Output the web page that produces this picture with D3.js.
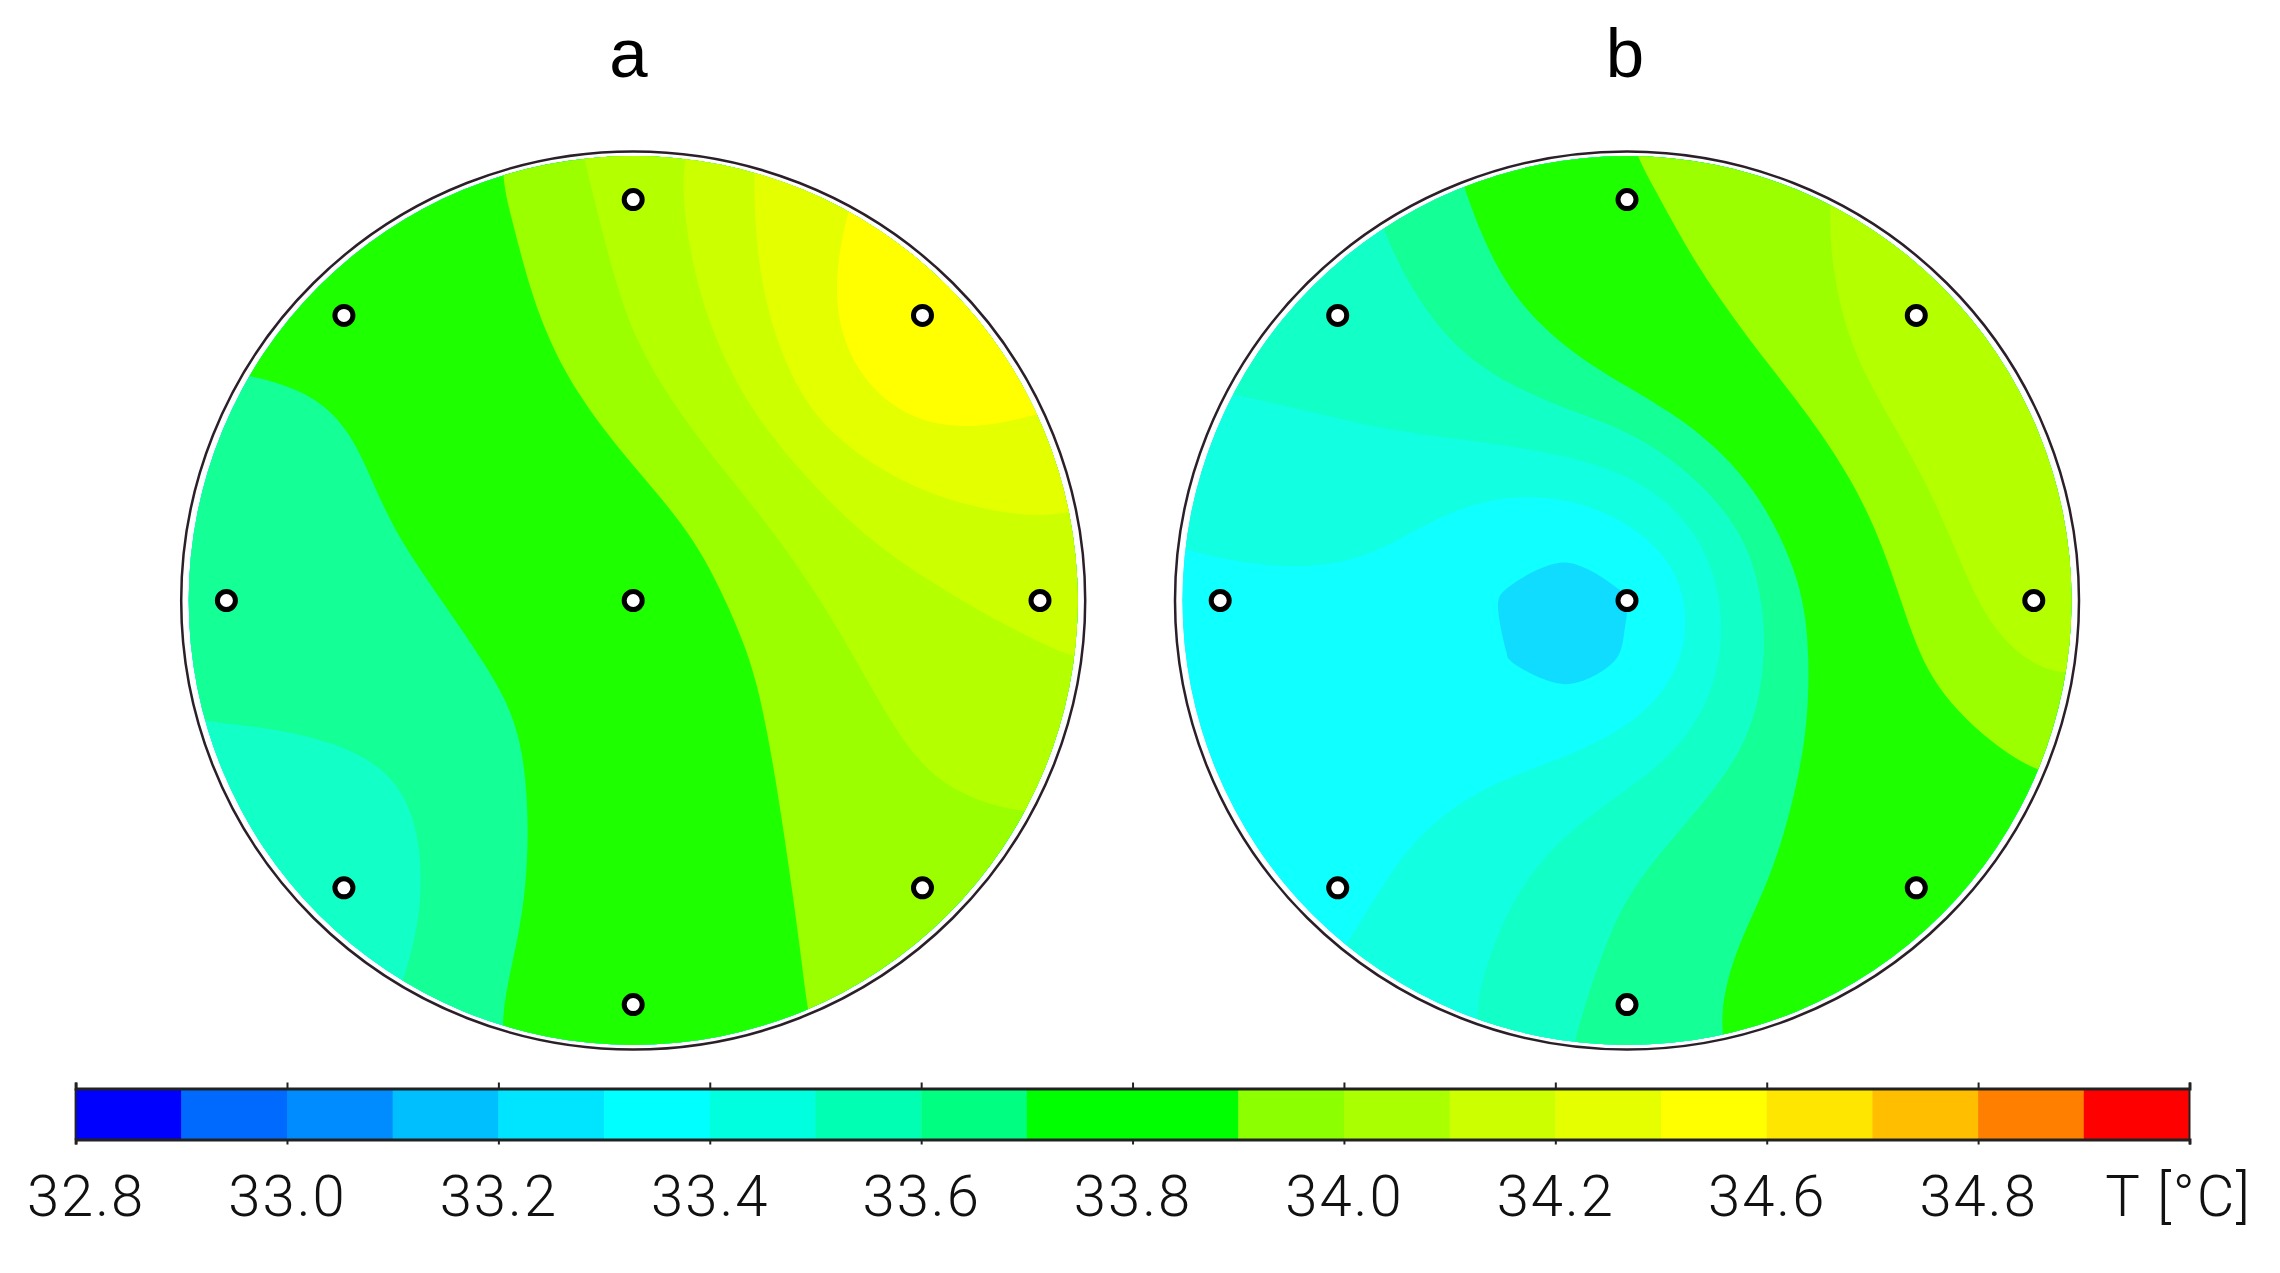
<!DOCTYPE html>
<html lang="en">
<head>
<meta charset="UTF-8">
<title>Temperature maps a and b</title>
<style>
  body { margin: 0; background: #fff; }
  svg { display: block; }
  .title { font-family: "Liberation Sans", sans-serif; font-size: 69px; text-anchor: middle; fill: #000; }
  .lab { font-family: Roboto, "Liberation Sans", sans-serif; font-weight: 300; font-size: 58px; letter-spacing: 2px; fill: #111; }
</style>
</head>
<body>
<svg id="chart" width="2280" height="1273"></svg>
<script src="https://cdn.jsdelivr.net/npm/d3@7"></script>
<script>
// temperatures, 17 x 17 grid, row by row, in degC
var tempsA = [
33.74,33.76,33.78,33.82,33.85,33.88,33.93,34.00,34.06,34.12,34.20,34.25,34.30,34.32,34.33,34.33,34.33,
33.73,33.75,33.77,33.80,33.83,33.87,33.91,33.98,34.05,34.12,34.20,34.26,34.31,34.33,34.34,34.34,34.34,
33.72,33.74,33.76,33.79,33.82,33.85,33.895,33.965,34.035,34.107,34.198,34.28,34.36,34.37,34.37,34.37,34.36,
33.72,33.73,33.75,33.78,33.81,33.85,33.89,33.945,34.02,34.09,34.195,34.285,34.365,34.38,34.38,34.37,34.36,
33.70,33.705,33.705,33.725,33.78,33.82,33.865,33.915,33.986,34.06,34.15,34.26,34.35,34.36,34.35,34.35,34.34,
33.64,33.65,33.665,33.68,33.74,33.79,33.83,33.88,33.94,34.01,34.09,34.196,34.27,34.31,34.305,34.285,34.27,
33.64,33.645,33.655,33.685,33.72,33.76,33.80,33.845,33.887,33.95,34.027,34.105,34.18,34.22,34.25,34.25,34.25,
33.635,33.64,33.65,33.67,33.698,33.737,33.777,33.817,33.857,33.895,33.964,34.034,34.103,34.14,34.165,34.175,34.18,
33.63,33.635,33.64,33.65,33.68,33.708,33.749,33.79,33.832,33.873,33.924,33.994,34.04,34.085,34.115,34.13,34.145,
33.62,33.625,33.63,33.64,33.66,33.685,33.72,33.765,33.81,33.855,33.901,33.963,34.011,34.039,34.066,34.094,34.11,
33.60,33.605,33.605,33.612,33.635,33.675,33.698,33.746,33.795,33.843,33.891,33.942,33.993,34.02,34.04,34.06,34.07,
33.55,33.55,33.555,33.57,33.595,33.647,33.69,33.739,33.787,33.835,33.883,33.926,33.965,34.003,34.015,34.02,34.02,
33.53,33.53,33.54,33.55,33.575,33.625,33.687,33.737,33.784,33.831,33.879,33.92,33.95,33.987,33.988,33.995,33.995,
33.52,33.52,33.53,33.55,33.57,33.625,33.69,33.738,33.783,33.83,33.874,33.915,33.935,33.95,33.96,33.97,33.97,
33.52,33.52,33.53,33.55,33.58,33.645,33.702,33.741,33.784,33.826,33.869,33.906,33.925,33.94,33.95,33.95,33.95,
33.53,33.53,33.54,33.565,33.607,33.67,33.71,33.744,33.784,33.824,33.864,33.905,33.92,33.93,33.93,33.93,33.93,
33.54,33.54,33.55,33.58,33.622,33.685,33.72,33.747,33.785,33.823,33.861,33.899,33.92,33.93,33.93,33.93,33.93
];
var tempsB = [
33.50,33.52,33.54,33.58,33.63,33.70,33.775,33.845,33.906,33.933,33.96,33.987,34.02,34.05,34.07,34.08,34.08,
33.50,33.52,33.54,33.57,33.62,33.685,33.749,33.812,33.876,33.92,33.953,33.985,34.02,34.05,34.07,34.08,34.08,
33.50,33.515,33.53,33.56,33.597,33.662,33.725,33.783,33.842,33.90,33.942,33.984,34.03,34.06,34.08,34.09,34.09,
33.505,33.515,33.53,33.55,33.575,33.63,33.69,33.747,33.805,33.863,33.92,33.973,34.025,34.055,34.07,34.08,34.08,
33.51,33.515,33.525,33.54,33.555,33.58,33.63,33.683,33.744,33.81,33.875,33.94,34.006,34.04,34.06,34.07,34.07,
33.47,33.478,33.484,33.494,33.507,33.53,33.554,33.578,33.605,33.69,33.785,33.883,33.965,34.03,34.05,34.06,34.06,
33.44,33.44,33.45,33.455,33.45,33.41,33.403,33.41,33.47,33.56,33.68,33.803,33.915,33.997,34.03,34.05,34.05,
33.40,33.41,33.42,33.42,33.405,33.38,33.328,33.315,33.331,33.433,33.584,33.736,33.865,33.962,34.03,34.06,34.07,
33.37,33.37,33.38,33.39,33.37,33.345,33.293,33.273,33.297,33.383,33.53,33.695,33.83,33.935,34.01,34.05,34.07,
33.36,33.36,33.36,33.36,33.35,33.343,33.301,33.279,33.304,33.396,33.528,33.682,33.80,33.908,33.967,34.03,34.05,
33.35,33.35,33.35,33.35,33.35,33.35,33.344,33.329,33.36,33.457,33.565,33.69,33.777,33.862,33.925,33.95,33.96,
33.35,33.35,33.355,33.36,33.37,33.38,33.40,33.44,33.48,33.541,33.626,33.706,33.755,33.803,33.852,33.90,33.92,
33.35,33.35,33.36,33.37,33.39,33.425,33.465,33.506,33.558,33.611,33.669,33.715,33.74,33.765,33.79,33.81,33.82,
33.35,33.355,33.365,33.38,33.403,33.449,33.495,33.547,33.60,33.646,33.691,33.71,33.73,33.74,33.75,33.76,33.77,
33.35,33.36,33.375,33.395,33.431,33.47,33.514,33.572,33.622,33.67,33.71,33.72,33.73,33.74,33.75,33.75,33.76,
33.36,33.37,33.385,33.41,33.447,33.483,33.53,33.589,33.632,33.68,33.715,33.72,33.73,33.74,33.75,33.75,33.76,
33.365,33.38,33.395,33.43,33.46,33.493,33.544,33.60,33.639,33.69,33.725,33.73,33.73,33.74,33.75,33.75,33.76
];
var gridSize = 17;

// sensor positions, -1..1 across the disc
var sensorX = [0, -0.64, 0.64, -0.9, 0, 0.9, -0.64, 0.64, 0];
var sensorY = [-0.893, -0.635, -0.635, 0, 0, 0, 0.64, 0.64, 0.9];

// colour key
var bandStart = d3.range(0, 20).map(function(i) { return 32.8 + i * 0.1; });
var barColors = ["#0000ff","#006aff","#008cff","#00bfff","#00e5ff","#00ffff","#00ffdf","#00ffb3","#00ff80","#00ff00",
                 "#00ff00","#8cff00","#aaff00","#ccff00","#e6ff00","#ffff00","#ffe600","#ffbf00","#ff7f00","#ff0000"];
var tickValues = [32.8,33.0,33.2,33.4,33.6,33.8,34.0,34.2,34.4,34.6,34.8];
// the printed key really does skip 34.4 and has nothing under the last tick
var tickLabels = ["32.8","33.0","33.2","33.4","33.6","33.8","34.0","34.2","34.6","34.8",""];

// isotherm levels and the colours of the bands above them inside the discs
var levels = [33.3,33.4,33.5,33.6,33.7,33.9,34.0,34.1,34.2,34.3];
var discColors = ["#10ffff","#12ffe2","#12ffc8","#14ff96","#1eff00","#9cff00","#b4ff00","#ccff00","#e4ff00","#ffff00"];
var lowestColor = "#10dcff";

var svg = d3.select("#chart");

var discs = [
  {name: "a", temps: tempsA, cx: 633.2, cy: 600.5, gridCx: 635.2, titleX: 628.5},
  {name: "b", temps: tempsB, cx: 1627, cy: 600.5, gridCx: 1625.2, titleX: 1625}
];

var contours = d3.contours().size([gridSize, gridSize]).thresholds(levels);

// the 17 x 17 grid gives kinks, so soften the ring vertices a little
function soften(ring) {
  var n = ring.length;
  return ring.map(function(p, i) {
    var a = ring[(i + n - 1) % n], b = ring[(i + 1) % n];
    return [(a[0] + 2 * p[0] + b[0]) / 4, (a[1] + 2 * p[1] + b[1]) / 4];
  });
}

discs.forEach(function(disc, n) {
  var rx = 452, ry = 449;
  var x = d3.scaleLinear().domain([-1, 1]).range([disc.cx - rx, disc.cx + rx]);
  var y = d3.scaleLinear().domain([-1, 1]).range([disc.cy - ry, disc.cy + ry]);
  // grid nodes sit 0.5 into d3.contours units, the grid is a bit wider than the disc
  var gx = d3.scaleLinear().domain([0.5, gridSize - 0.5]).range([disc.gridCx - 475, disc.gridCx + 475]);
  var gy = d3.scaleLinear().domain([0.5, gridSize - 0.5]).range([y(-1.05), y(1.05)]);
  var line = d3.line().x(function(p) { return gx(p[0]); }).y(function(p) { return gy(p[1]); })
    .curve(d3.curveBasisClosed);
  // small closed isotherms only have a few vertices, pass through them instead
  var smallLine = d3.line().x(function(p) { return gx(p[0]); }).y(function(p) { return gy(p[1]); })
    .curve(d3.curveCatmullRomClosed.alpha(0.5));

  svg.append("clipPath").attr("id", "clip" + n)
    .append("circle").attr("cx", disc.cx).attr("cy", disc.cy).attr("r", 444.5);

  var g = svg.append("g").attr("clip-path", "url(#clip" + n + ")");
  g.append("rect").attr("x", disc.cx - rx).attr("y", disc.cy - ry).attr("width", 2 * rx).attr("height", 2 * ry)
    .attr("fill", lowestColor);

  g.selectAll("path")
    .data(contours(disc.temps))
    .enter().append("path")
    .attr("d", function(c) {
      var s = "";
      c.coordinates.forEach(function(poly) {
        poly.forEach(function(ring) {
          var pts = ring.slice(0, -1);
          s += pts.length < 20 ? smallLine(pts) : line(soften(soften(pts)));
        });
      });
      return s;
    })
    .attr("fill-rule", "evenodd")
    .attr("fill", function(c, i) { return discColors[i]; });

  // outer ring
  svg.append("ellipse").attr("cx", disc.cx).attr("cy", disc.cy).attr("rx", rx).attr("ry", ry)
    .attr("fill", "none").attr("stroke", "#2b2029").attr("stroke-width", 2.5);

  svg.selectAll(".sensor" + n)
    .data(sensorX)
    .enter().append("circle")
    .attr("class", "sensor" + n)
    .attr("cx", function(d) { return x(d); })
    .attr("cy", function(d, i) { return y(sensorY[i]); })
    .attr("r", 9)
    .attr("fill", "#fff").attr("stroke", "#000").attr("stroke-width", 5);

  svg.append("text").attr("class", "title").attr("x", disc.titleX).attr("y", 77).text(disc.name);
});

// colour key
var barTop = 1088.5, barBottom = 1139.5;
var keyX = d3.scaleLinear().domain([32.8, 34.8]).range([75.6, 2189.5]);

svg.selectAll(".band")
  .data(bandStart)
  .enter().append("rect")
  .attr("class", "band")
  .attr("x", function(d) { return keyX(d); })
  .attr("width", function(d) { return keyX(d + 0.1) - keyX(d) + 0.5; })
  .attr("y", barTop).attr("height", barBottom - barTop)
  .attr("fill", function(d, i) { return barColors[i]; });

var topAxis = svg.append("g").attr("transform", "translate(0," + barTop + ")")
  .call(d3.axisTop(keyX).tickValues(tickValues).tickSize(6).tickFormat(""));
var bottomAxis = svg.append("g").attr("transform", "translate(0," + barBottom + ")")
  .call(d3.axisBottom(keyX).tickValues(tickValues).tickSize(5).tickFormat(function(d, i) { return tickLabels[i]; }));

[topAxis, bottomAxis].forEach(function(a) {
  a.select(".domain").attr("stroke", "#222").attr("stroke-width", 3);
  a.selectAll(".tick line").attr("stroke", "#222").attr("stroke-width", 2);
});
bottomAxis.selectAll("text")
  .attr("class", "lab")
  .attr("y", 76.5).attr("dy", 0)
  .attr("dx", function(d, i) { return i === 0 ? 10 : 0; });

// side edges of the bar
svg.selectAll(".side")
  .data([32.8, 34.8])
  .enter().append("line")
  .attr("x1", function(d) { return keyX(d); }).attr("x2", function(d) { return keyX(d); })
  .attr("y1", barTop).attr("y2", barBottom)
  .attr("stroke", "#222").attr("stroke-width", 2);

svg.append("text").attr("class", "lab").attr("text-anchor", "end")
  .attr("x", 2252).attr("y", 1216).text("T [°C]");
</script>
</body>
</html>
